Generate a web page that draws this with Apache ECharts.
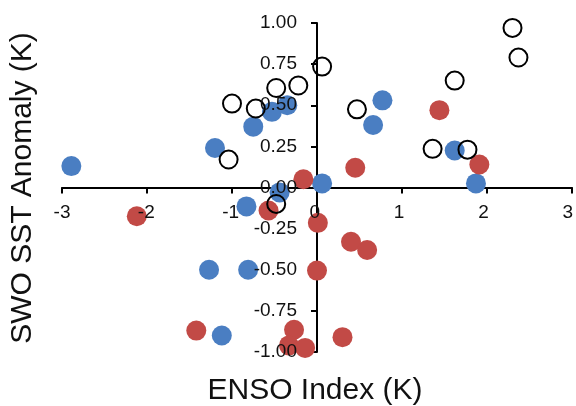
<!DOCTYPE html>
<html>
<head>
<meta charset="utf-8">
<script src="https://cdn.jsdelivr.net/npm/echarts@6/dist/echarts.min.js"></script>
<style>
  html, body { margin: 0; padding: 0; background: #fff; }
  #chart { width: 576px; height: 406px; }
</style>
</head>
<body>
<div id="chart"></div>
<script>
// ENSO index (x) vs SWO SST anomaly (y), in K
const blueX = [-2.89, -1.20, -0.75, -0.53, -0.35, 0.06, -0.44, -0.83, -1.27, -0.81, -1.12, 0.77, 0.66, 1.62, 1.87];
const blueY = [0.13, 0.24, 0.37, 0.46, 0.50, 0.025, -0.03, -0.115, -0.50, -0.50, -0.90, 0.53, 0.38, 0.225, 0.025];

const redX = [-2.12, -0.57, -0.16, 0.01, 0.00, 0.40, 0.59, 0.30, -1.42, -0.27, -0.33, -0.14, 0.45, 1.44, 1.91];
const redY = [-0.175, -0.14, 0.05, -0.215, -0.505, -0.33, -0.38, -0.91, -0.87, -0.865, -0.96, -0.975, 0.12, 0.47, 0.14];

const openX = [2.30, 2.37, 1.62, 0.47, 1.36, 1.77, 0.06, -0.22, -0.48, -0.72, -1.00, -1.04, -0.48];
const openY = [0.97, 0.79, 0.65, 0.475, 0.235, 0.23, 0.735, 0.62, 0.605, 0.48, 0.51, 0.17, -0.10];

const xTicks = { min: -3, max: 3, step: 1 };
const yTicks = { min: -1, max: 1, step: 0.25 };
const xTitle = 'ENSO Index (K)';
const yTitle = 'SWO SST Anomaly (K)';

const pairs = (xs, ys) => xs.map((x, i) => [x, ys[i]]);
const FONT = '"Liberation Sans", Arial, sans-serif';

const W = 576, H = 406;
const box = { left: 62, right: 4, top: 23, bottom: 54 };
const plotW = W - box.left - box.right;
const plotH = H - box.top - box.bottom;
// pixel position of the origin, where the two axes cross
const zeroX = box.left + (0 - xTicks.min) / (xTicks.max - xTicks.min) * plotW;
const zeroY = box.top + (yTicks.max - 0) / (yTicks.max - yTicks.min) * plotH;

const chart = echarts.init(document.getElementById('chart'), null, { renderer: 'canvas' });

// grid 0: axis lines crossing at the origin, ticks and markers
// grid 1: bottom edge on y = 0, carries the x tick labels (drawn above markers)
// grid 2: left edge on x = 0, carries the y tick labels (drawn above markers)
chart.setOption({
  animation: false,
  backgroundColor: '#fff',
  grid: [
    { left: box.left, right: box.right, top: box.top, bottom: box.bottom, containLabel: false },
    { left: box.left, right: box.right, top: box.top, height: zeroY - box.top, containLabel: false },
    { left: zeroX, right: box.right, top: box.top, bottom: box.bottom, containLabel: false }
  ],
  xAxis: [
    {
      gridIndex: 0, type: 'value', min: xTicks.min, max: xTicks.max, interval: xTicks.step, z: 0,
      splitLine: { show: false },
      axisLine: { show: true, onZero: true, lineStyle: { color: '#000', width: 2 } },
      axisTick: { show: true, inside: false, length: 6, lineStyle: { color: '#000', width: 2 } },
      axisLabel: { show: false }
    },
    {
      gridIndex: 1, type: 'value', min: xTicks.min, max: xTicks.max, interval: xTicks.step, z: 10,
      position: 'bottom', splitLine: { show: false },
      axisLine: { show: false, onZero: false },
      axisTick: { show: false },
      axisLabel: { show: true, color: '#111', fontSize: 19, fontFamily: FONT, margin: 16 }
    },
    { gridIndex: 2, type: 'value', min: 0, max: 1, show: false }
  ],
  yAxis: [
    {
      gridIndex: 0, type: 'value', min: yTicks.min, max: yTicks.max, interval: yTicks.step, z: 0,
      splitLine: { show: false },
      axisLine: { show: true, onZero: true, lineStyle: { color: '#000', width: 2 } },
      axisTick: { show: true, inside: false, length: 6, lineStyle: { color: '#000', width: 2 } },
      axisLabel: { show: false }
    },
    { gridIndex: 1, type: 'value', min: 0, max: 1, show: false },
    {
      gridIndex: 2, type: 'value', min: yTicks.min, max: yTicks.max, interval: yTicks.step, z: 10,
      position: 'left', splitLine: { show: false },
      axisLine: { show: false, onZero: false },
      axisTick: { show: false },
      axisLabel: {
        show: true, color: '#111', fontSize: 19, fontFamily: FONT, margin: 20,
        formatter: v => v.toFixed(2)
      }
    }
  ],
  series: [
    {
      type: 'scatter', xAxisIndex: 0, yAxisIndex: 0, z: 2,
      symbol: 'circle', symbolSize: 20,
      itemStyle: { color: '#4A7EC2', opacity: 1 },
      data: pairs(blueX, blueY)
    },
    {
      type: 'scatter', xAxisIndex: 0, yAxisIndex: 0, z: 2,
      symbol: 'circle', symbolSize: 20,
      itemStyle: { color: '#C24A46', opacity: 1 },
      data: pairs(redX, redY)
    },
    {
      type: 'scatter', xAxisIndex: 0, yAxisIndex: 0, z: 2,
      symbol: 'circle', symbolSize: 18,
      itemStyle: { color: 'rgba(255,255,255,0)', borderColor: '#000', borderWidth: 2, opacity: 1 },
      data: pairs(openX, openY)
    }
  ],
  graphic: [
    {
      type: 'text', x: 315, y: 391, z: 20,
      style: {
        text: xTitle, font: '30px ' + FONT, fill: '#111',
        align: 'center', verticalAlign: 'middle'
      }
    },
    {
      type: 'text', x: 23, y: 188, rotation: Math.PI / 2, z: 20,
      style: {
        text: yTitle, font: '30px ' + FONT, fill: '#111',
        align: 'center', verticalAlign: 'middle'
      }
    }
  ]
});
</script>
</body>
</html>
